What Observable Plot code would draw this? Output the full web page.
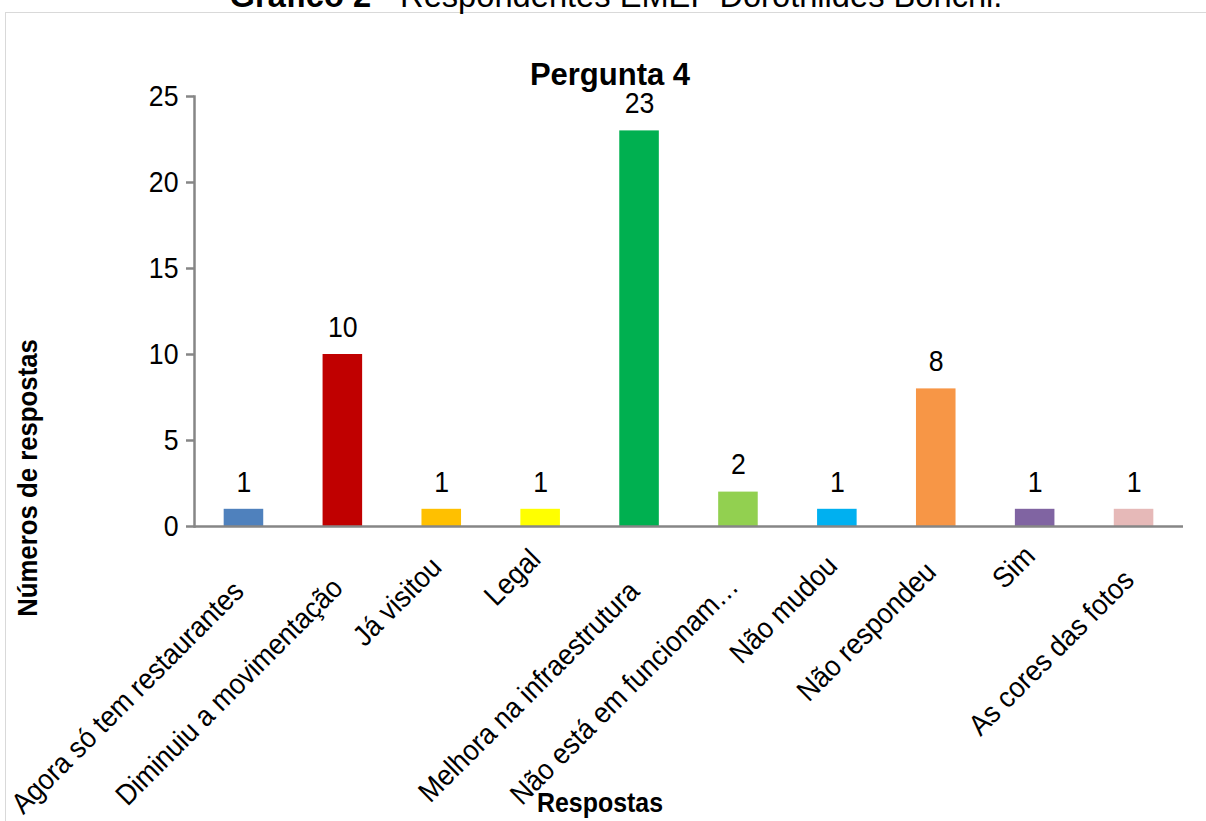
<!DOCTYPE html>
<html>
<head>
<meta charset="utf-8">
<script src="https://cdn.jsdelivr.net/npm/d3@7"></script>
<script src="https://cdn.jsdelivr.net/npm/@observablehq/plot@0.6"></script>
<style>
  html, body { margin: 0; padding: 0; background: #fff; overflow: hidden; }
  body { width: 1206px; height: 821px; position: relative; font-family: "Liberation Sans", Arial, sans-serif; }
  #frame { position: absolute; left: 5px; top: 12px; width: 1210px; height: 820px; border: 1px solid #d9d9d9; box-sizing: border-box; }
  #chart { position: absolute; left: 0; top: 0; }
  .t { position: absolute; white-space: nowrap; color: #000; }
  #title { left: 616px; top: 12px; transform: translate(-50%, -100%) scaleX(0.96); font-size: 34px; line-height: 1; }
  #sub { left: 610px; top: 75px; transform: translate(-50%, -50%); font-size: 31px; font-weight: bold; }
  #ylab { left: 28px; top: 478px; transform: translate(-50%, -50%) rotate(-90deg) scaleX(0.92); font-size: 28px; font-weight: bold; }
  #xlab { left: 600px; top: 803px; transform: translate(-50%, -50%) scaleX(0.89); font-size: 28px; font-weight: bold; }
</style>
</head>
<body>
<div id="frame"></div>
<div id="chart"></div>
<div class="t" id="title"><b>Gráfico 2</b> - Respondentes EMEF Dorothildes Bonchi.</div>
<div class="t" id="sub">Pergunta 4</div>
<div class="t" id="ylab">Números de respostas</div>
<div class="t" id="xlab">Respostas</div>
<script>
const categories = [
  "Agora só tem restaurantes",
  "Diminuiu a movimentação",
  "Já visitou",
  "Legal",
  "Melhora na infraestrutura",
  "Não está em funcionam…",
  "Não mudou",
  "Não respondeu",
  "Sim",
  "As cores das fotos"
];
const values = [1, 10, 1, 1, 23, 2, 1, 8, 1, 1];
const colors = ["#4F81BD", "#C00000", "#FFC000", "#FFFF00", "#00B050", "#92D050", "#00B0F0", "#F79646", "#8064A2", "#E6B9B8"];
const yTicks = [0, 5, 10, 15, 20, 25];

const data = categories.map((c, i) => ({category: c, value: values[i], color: colors[i]}));

const font = '"Liberation Sans", Arial, sans-serif';
const axisGray = "#868686";

// rotated category labels: Excel-like drop depending on label length
const labelMarks = categories.map(c =>
  Plot.text([c], {
    x: d => d, y: () => 0,
    text: d => d,
    rotate: -45, textAnchor: "end",
    dx: -5, dy: 20 + 1.6 * Math.min(c.length, 25),
    fontSize: 29, fill: "#000"
  })
);

const chart = Plot.plot({
  width: 1206,
  height: 821,
  marginLeft: 194,
  marginRight: 23,
  marginTop: 96,
  marginBottom: 295,
  style: {fontFamily: font, background: "transparent", overflow: "visible"},
  x: {domain: categories, paddingInner: 0.6, paddingOuter: 0.3, round: false, axis: null},
  y: {domain: [0, 25], axis: null},
  marks: [
    Plot.barY(data, {x: "category", y: "value", fill: d => d.color}),
    Plot.text(data, {x: "category", y: "value", text: d => String(d.value), dy: -27, fontSize: 29, fill: "#000"}),
    Plot.ruleY([0], {stroke: axisGray, strokeWidth: 2.5}),
    Plot.frame({anchor: "left", stroke: axisGray, strokeWidth: 2.5}),
    Plot.axisY({ticks: yTicks, tickSize: 8, tickPadding: 8, stroke: axisGray, strokeWidth: 2.5, fill: "#000", fontSize: 29, label: null}),
    ...labelMarks
  ]
});

// condense all SVG texts slightly (narrow face like the original), around their anchor point
chart.querySelectorAll("text").forEach(t => {
  const tr = t.getAttribute("transform") || "";
  t.setAttribute("transform", (tr + " scale(0.92,1)").trim());
});

document.getElementById("chart").appendChild(chart);
</script>
</body>
</html>
